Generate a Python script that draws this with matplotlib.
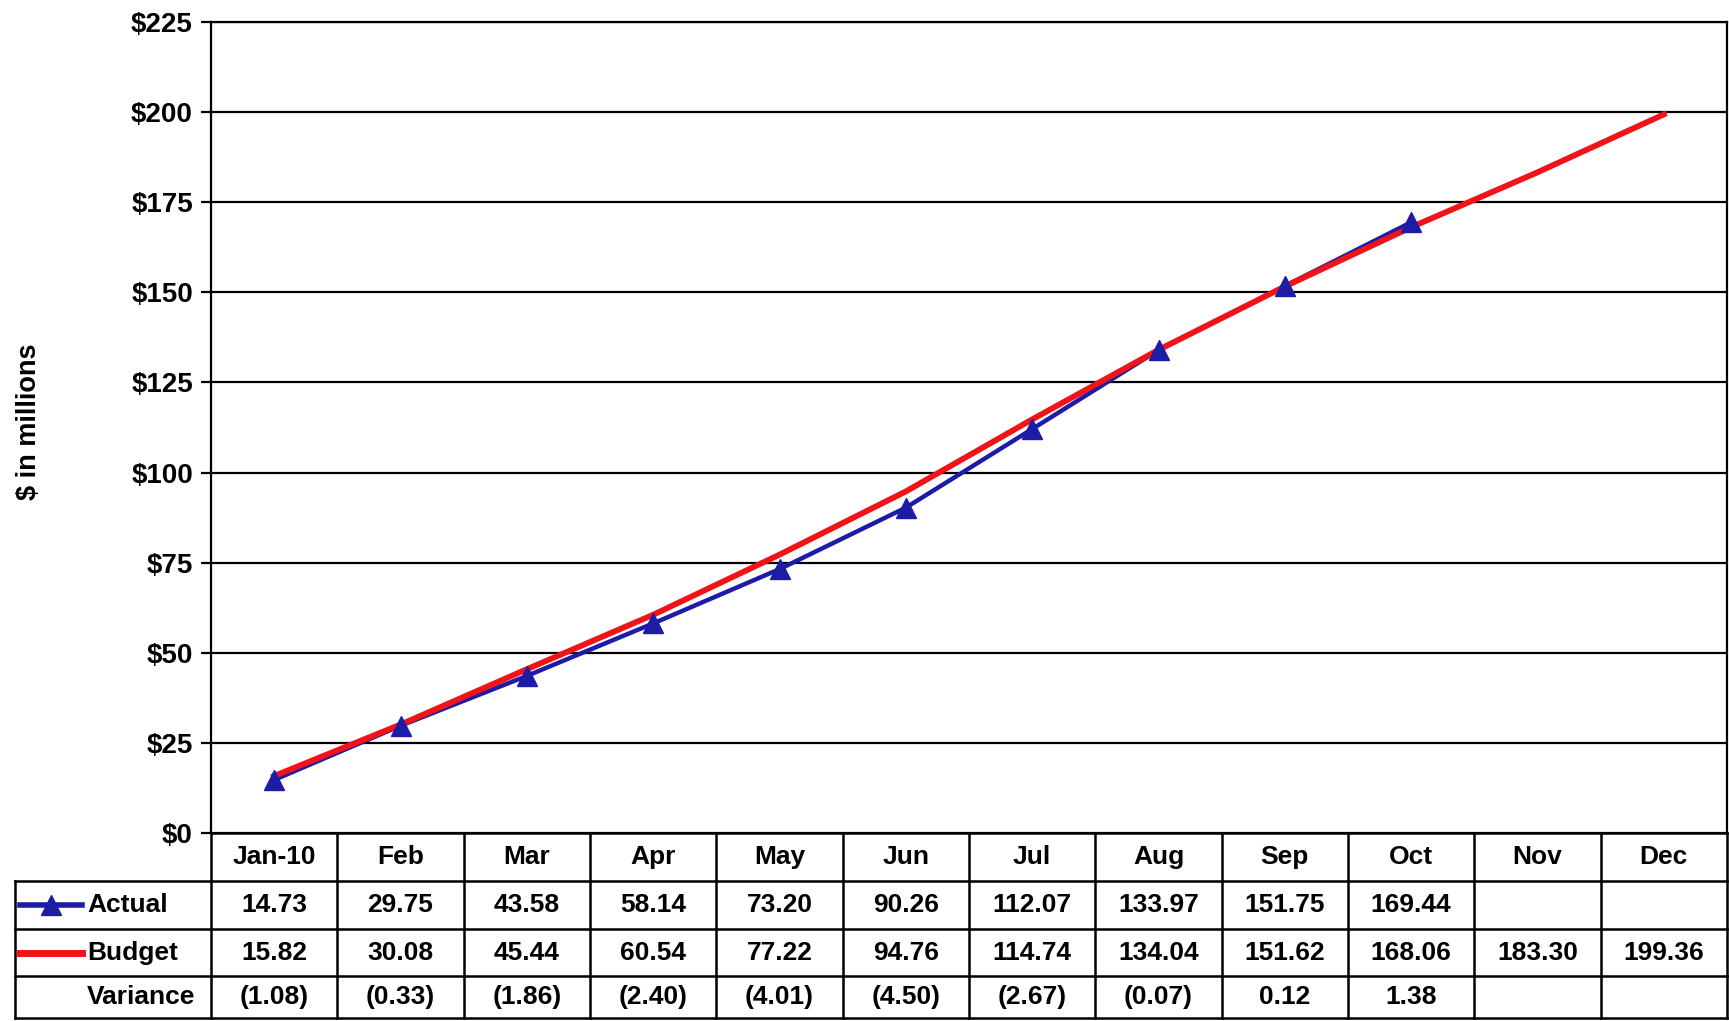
import matplotlib
matplotlib.use("Agg")
import matplotlib.pyplot as plt

months = ["Jan-10", "Feb", "Mar", "Apr", "May", "Jun", "Jul", "Aug", "Sep", "Oct", "Nov", "Dec"]
actual = [14.73, 29.75, 43.58, 58.14, 73.20, 90.26, 112.07, 133.97, 151.75, 169.44]
budget = [15.82, 30.08, 45.44, 60.54, 77.22, 94.76, 114.74, 134.04, 151.62, 168.06, 183.30, 199.36]
variance = ["(1.08)", "(0.33)", "(1.86)", "(2.40)", "(4.01)", "(4.50)", "(2.67)", "(0.07)", "0.12", "1.38", "", ""]
yticks = [0, 25, 50, 75, 100, 125, 150, 175, 200, 225]
ytick_labels = ["$0", "$25", "$50", "$75", "$100", "$125", "$150", "$175", "$200", "$225"]

plt.rcParams['font.family'] = ['Liberation Sans', 'DejaVu Sans']
plt.rcParams['font.weight'] = 'bold'

W, H = 1729, 1021
fig = plt.figure(figsize=(W / 100, H / 100), dpi=100)

# layout in pixels
pl, pr, pt, pb = 211, 1727, 22, 833
tl = 15
row_px = [833, 881, 929, 976, 1018]

BLUE = "#1c1ca6"
RED = "#f01418"

ax = fig.add_axes([pl / W, (H - pb) / H, (pr - pl) / W, (pb - pt) / H])
x = list(range(len(months)))
ax.plot(x[:len(actual)], actual, color=BLUE, lw=3.2, zorder=3, solid_capstyle='butt')
ax.plot(x, budget, color=RED, lw=4.2, zorder=4)
ax.plot(x[:len(actual)], actual, ls='none', marker='^', ms=15, color=BLUE, zorder=5)
ax.set_xlim(-0.5, len(months) - 0.5)
ax.set_ylim(0, 225)
ax.set_yticks(yticks)
ax.set_yticklabels(ytick_labels, fontsize=20, fontweight='bold')
ax.set_xticks([])
for v in yticks:
    ax.axhline(v, color='black', lw=1.6, zorder=1)
for s in ['left', 'right', 'top']:
    ax.spines[s].set_linewidth(1.6)
ax.spines['bottom'].set_visible(False)
ax.tick_params(axis='y', length=7, width=1.6, pad=6)
fig.text(29 / W, (H - 422) / H, "$ in millions", rotation=90, ha='center', va='center',
         fontsize=19.5, fontweight='bold')

# data table
unit = (pr - pl) / len(months)
xl = -0.5 - (pl - tl) / unit
tab = fig.add_axes([tl / W, 0, (pr - tl) / W, (H - pb) / H])
tab.set_xlim(xl, len(months) - 0.5)
tab.set_ylim(0, H - pb)
tab.axis('off')

def ry(p):
    return H - p

lw = 1.8
tab.plot([-0.5, len(months) - 0.5], [ry(row_px[0])] * 2, color='black', lw=lw, clip_on=False)
for p in row_px[1:]:
    tab.plot([xl, len(months) - 0.5], [ry(p)] * 2, color='black', lw=lw, clip_on=False)
for i in range(len(months) + 1):
    tab.plot([i - 0.5] * 2, [ry(row_px[0]), ry(row_px[-1])], color='black', lw=lw, clip_on=False)
tab.plot([xl] * 2, [ry(row_px[1]), ry(row_px[-1])], color='black', lw=lw, clip_on=False)

def cy(r):
    return ry((row_px[r] + row_px[r + 1]) / 2)

fs = 19
for i, m in enumerate(months):
    tab.text(i, cy(0), m, ha='center', va='center', fontsize=fs, fontweight='bold')
for i, v in enumerate(actual):
    tab.text(i, cy(1), f"{v:.2f}", ha='center', va='center', fontsize=fs, fontweight='bold')
for i, v in enumerate(budget):
    tab.text(i, cy(2), f"{v:.2f}", ha='center', va='center', fontsize=fs, fontweight='bold')
for i, v in enumerate(variance):
    tab.text(i, cy(3), v, ha='center', va='center', fontsize=fs, fontweight='bold')

lab_x = xl + (87 - tl) / unit
k0 = xl + (20 - tl) / unit
k1 = xl + (82 - tl) / unit
tab.plot([k0, k1], [cy(1)] * 2, color=BLUE, lw=4, clip_on=False)
tab.plot([(k0 + k1) / 2], [cy(1)], marker='^', ms=14, color=BLUE, clip_on=False)
tab.plot([k0, k1], [cy(2)] * 2, color=RED, lw=5, clip_on=False)
tab.text(lab_x, cy(1), "Actual", ha='left', va='center', fontsize=fs, fontweight='bold')
tab.text(lab_x, cy(2), "Budget", ha='left', va='center', fontsize=fs, fontweight='bold')
tab.text(lab_x, cy(3), "Variance", ha='left', va='center', fontsize=fs, fontweight='bold')

fig.savefig("out.png", dpi=100)
